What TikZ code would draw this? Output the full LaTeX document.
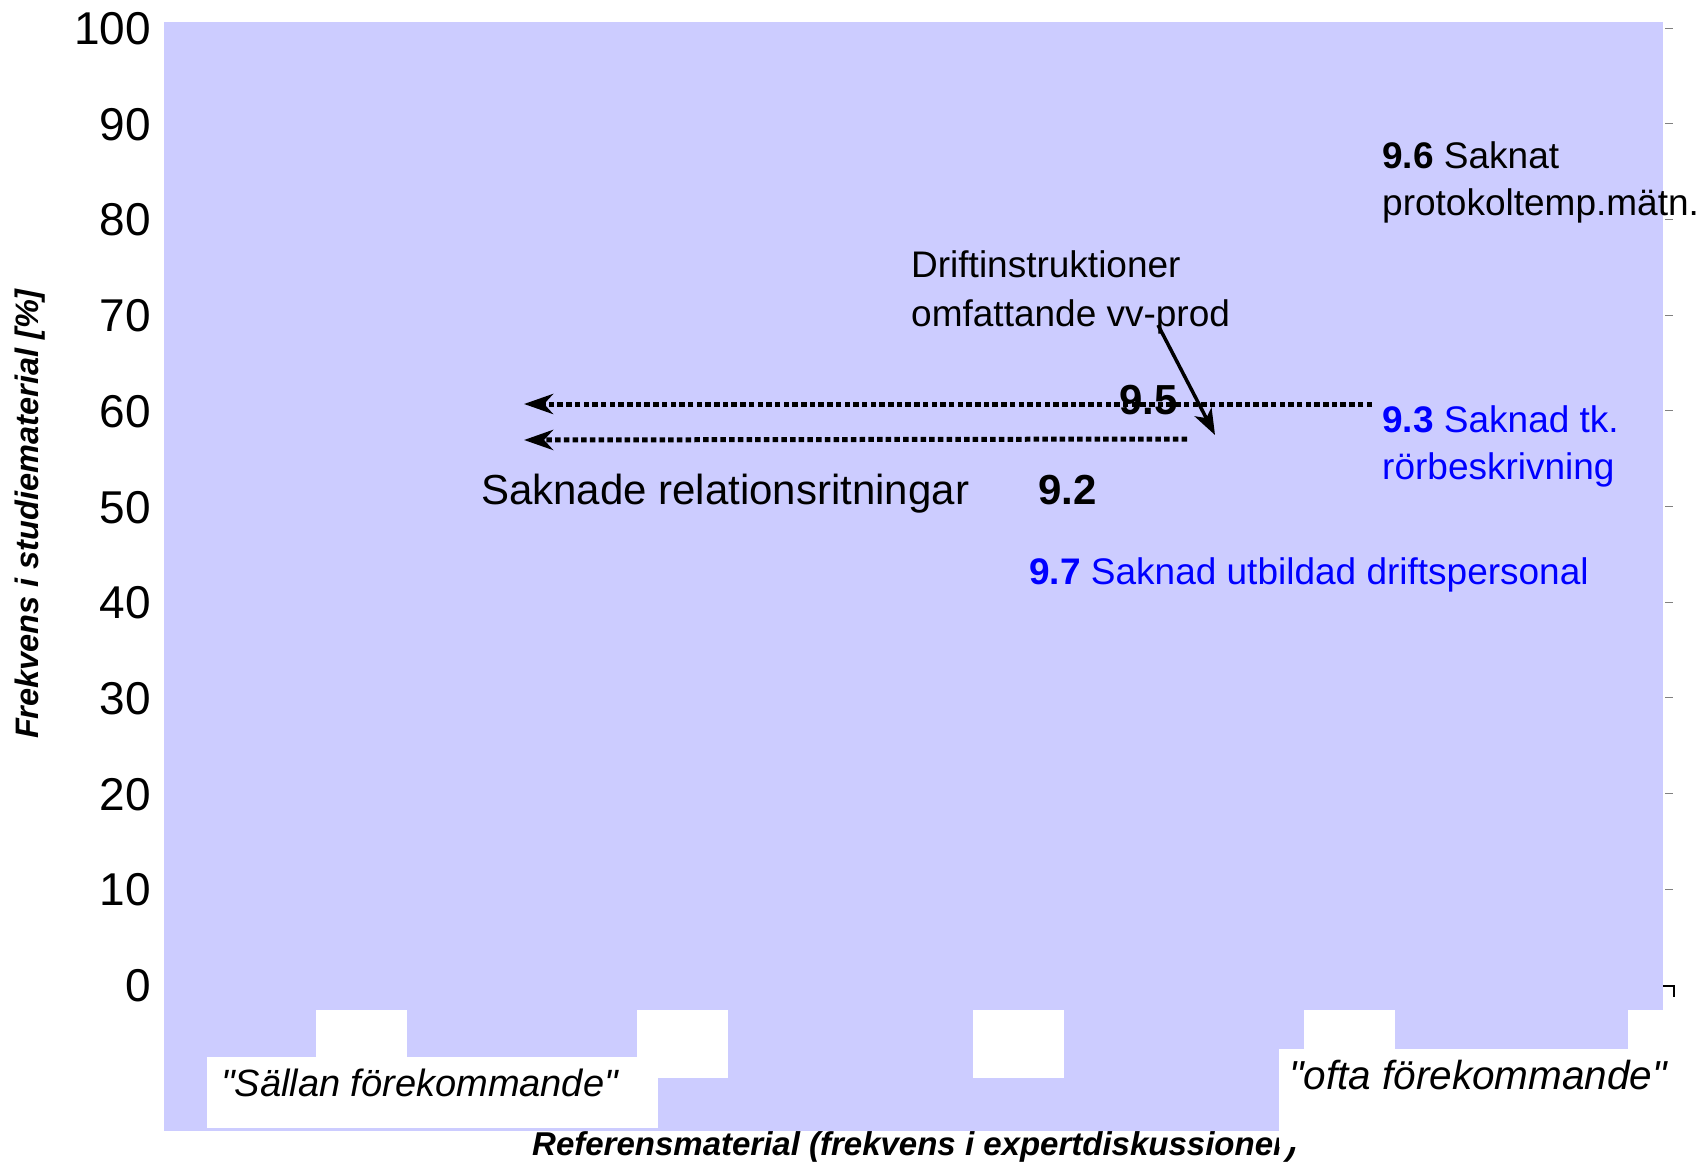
\documentclass[tikz,border=0pt]{standalone}
\usepackage{fontspec}
\setmainfont{Liberation Sans}
\usetikzlibrary{arrows.meta}
\definecolor{plotbg}{RGB}{204,204,255}
\definecolor{lblblue}{RGB}{0,0,255}
\newcommand{\sq}{\XeTeXglyph\XeTeXcharglyph"22\relax}
\begin{document}
\begin{tikzpicture}[x=1pt,y=-1pt,
  lbl/.style={inner sep=0pt, anchor=base west, font=\fontsize{37}{44}\selectfont},
  biglbl/.style={inner sep=0pt, anchor=base west, font=\fontsize{42}{50}\selectfont},
  ylab/.style={inner sep=0pt, anchor=base east, font=\fontsize{46}{54}\selectfont},
  axtitle/.style={inner sep=0pt, font=\fontsize{33}{38}\selectfont\bfseries\itshape},
  cat/.style={inner sep=0pt, anchor=base west, font=\fontsize{38}{44}\selectfont\itshape},
  whitebox/.style={fill=white, draw=none},
  dotarrow/.style={line width=5pt, dash pattern=on 5.5pt off 3.2pt, -{Stealth[length=29pt,width=20pt,inset=9pt]}},
  solidarrow/.style={line width=3.5pt, -{Stealth[length=26pt,width=19pt,inset=7pt]}}
]
\useasboundingbox (0,0) rectangle (1696,1162);
% plot area
\fill[plotbg] (164,22) rectangle (1663,1131);
% right-side ticks
\foreach \v in {10,20,...,100}
  \draw[gray, line width=1pt] (1665,{985-9.57*\v}) -- (1673,{985-9.57*\v});
\draw[black, line width=1.3pt] (1663,986) -- (1674,986) -- (1674,997);
% y tick labels
\foreach \v in {0,10,...,100}
  \node[ylab] (y\v) at (151,{1001.5-9.57*\v}) {\v};
% axis titles
\node[axtitle, anchor=base west] (xtitle) at (532,1155) {Referensmaterial (frekvens i expertdiskussioner)};
\node[axtitle, font=\fontsize{32.5}{38}\selectfont\bfseries\itshape, rotate=90, anchor=center] (ytitle) at (30,514) {Frekvens i studiematerial [\%]};
% white label boxes cutting the plot area
\fill[whitebox] (316,1010) rectangle (407,1057);
\fill[whitebox] (207,1057) rectangle (658,1128);
\fill[whitebox] (637,1010) rectangle (728,1078);
\fill[whitebox] (973,1010) rectangle (1064,1078);
\fill[whitebox] (1304,1010) rectangle (1395,1049);
\fill[whitebox] (1279,1049) rectangle (1696,1147);
\fill[whitebox] (1628,1010) rectangle (1696,1049);
% category labels
\node[cat] (sallan) at (221,1096) {\sq Sällan förekommande\sq};
\node[cat, font=\fontsize{40.5}{46}\selectfont\itshape] (ofta) at (1289,1089) {\sq ofta förekommande\sq};
% annotations
\node[lbl] (drift1) at (911,277) {Driftinstruktioner};
\node[lbl] (drift2) at (911,326) {omfattande vv-prod};
\node[biglbl, font=\fontsize{42}{50}\selectfont\bfseries] (n95) at (1119,414) {9.5};
\node[biglbl] (relat) at (481,504) {Saknade relationsritningar};
\node[biglbl, font=\fontsize{42}{50}\selectfont\bfseries] (n92) at (1038,504) {9.2};
\node[lbl] (n96a) at (1382,168) {\textbf{9.6} Saknat};
\node[lbl] (n96b) at (1382,215) {protokoltemp.mätn.};
\node[lbl, text=lblblue] (n93a) at (1382,432) {\textbf{9.3} Saknad tk.};
\node[lbl, text=lblblue] (n93b) at (1382,479) {rörbeskrivning};
\node[lbl, text=lblblue] (n97) at (1029,584) {\textbf{9.7} Saknad utbildad driftspersonal};
% connectors
\coordinate (d1s) at (1372,404);
\coordinate (d1e) at (524,404);
\coordinate (d2s) at (1187,439);
\coordinate (d2e) at (524,440);
\coordinate (sas) at (1158,325);
\coordinate (sae) at (1215,435);
\draw[dotarrow] (d1s) -- (d1e);
\draw[dotarrow] (d2s) -- (d2e);
\draw[solidarrow] (sas) -- (sae);
\end{tikzpicture}
\end{document}
